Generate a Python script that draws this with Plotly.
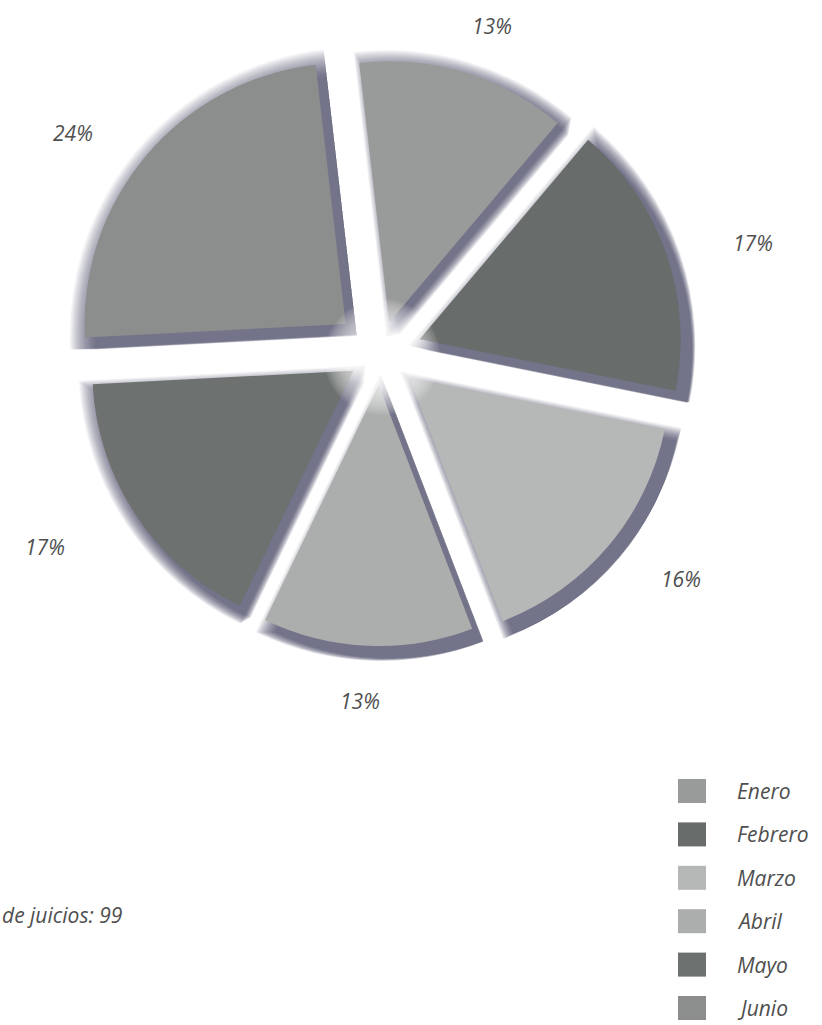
import math
import plotly.graph_objects as go

# Share of cases per month (percent)
months = ["Enero", "Febrero", "Marzo", "Abril", "Mayo", "Junio"]
shares = [13, 17, 16, 13, 17, 24]
slice_colors = ["#999b9a", "#686c6a", "#b6b8b8", "#abaead", "#6d716f", "#8b8e8d"]
footnote = "de juicios: 99"

W, H = 822, 1025
CX, CY = 380, 353          # pie centre in px
R = 261                    # slice radius in px
ROT = -6.6                 # start angle, degrees clockwise from 12 o'clock
explode_px = [32, 42, 38, 32, 32, 45]   # how far each slice is pulled out


def pie_layer(colors, cx, cy, r, shrink=0.0, **kw):
    """One pie copy with slice radius r (px) and explode distances in px."""
    pulls = [max(p - shrink, 0) / r for p in explode_px]
    half = r * (1 + max(pulls))
    return go.Pie(
        labels=months, values=shares, sort=False, direction="clockwise",
        rotation=ROT, pull=pulls, textinfo="none", showlegend=False,
        marker=dict(colors=colors, line=dict(width=0)),
        domain=dict(x=[(cx - half) / W, (cx + half) / W],
                    y=[1 - (cy + half) / H, 1 - (cy - half) / H]),
        **kw,
    )


fig = go.Figure()

# soft drop shadow: many faint copies spread evenly in offset and size,
# so the darkness fades out smoothly away from each slice
n = 36
for i in range(n):
    t = i / (n - 1)
    fig.add_trace(pie_layer(
        ["rgba(72,72,82,0.03)"] * len(shares),
        CX + 1 + 10 * t, CY + 2 + 10 * t, R + 26 * (1 - t),
        shrink=13 * (1 - t), hoverinfo="skip"))

fig.add_trace(pie_layer(slice_colors, CX, CY, R))

# white glow where the slice tips meet
for rad in range(58, 2, -2):
    fig.add_shape(type="circle", xref="paper", yref="paper",
                  x0=(CX + 2 - rad) / W, x1=(CX + 2 + rad) / W,
                  y0=1 - (CY + 4 + rad) / H, y1=1 - (CY + 4 - rad) / H,
                  fillcolor="rgba(255,255,255,0.08)", line=dict(width=0),
                  layer="above")

font_txt = dict(family="Open Sans", size=21, color="#4f4f4f", style="italic")

# percentage labels placed around the pie at each slice's mid-angle
total = sum(shares)
acc = 0
LA, LB = 398, 345
for m, v in zip(months, shares):
    mid = ROT + 360 * (acc + v / 2) / total
    acc += v
    th = math.radians(mid)
    x = 377 + LA * math.sin(th)
    y = 356 - LB * math.cos(th)
    fig.add_annotation(x=x / W, y=1 - y / H, xref="paper", yref="paper",
                       text=f"{round(100 * v / total)}%", showarrow=False,
                       font=font_txt, xanchor="center", yanchor="middle")

# legend key, drawn at the lower right
for i, (m, c) in enumerate(zip(months, slice_colors)):
    yc = 791 + i * 43.4
    fig.add_shape(type="rect", xref="paper", yref="paper",
                  x0=678 / W, x1=706 / W,
                  y0=1 - (yc + 12) / H, y1=1 - (yc - 12) / H,
                  fillcolor=c, line=dict(width=0))
    fig.add_annotation(x=735 / W, y=1 - yc / H, xref="paper", yref="paper",
                       text=m, showarrow=False, font=font_txt,
                       xanchor="left", yanchor="middle")

fig.add_annotation(x=0, y=1 - 915 / H, xref="paper", yref="paper",
                   text=footnote, showarrow=False, font=font_txt,
                   xanchor="left", yanchor="middle")

fig.update_layout(width=W, height=H, margin=dict(l=0, r=0, t=0, b=0),
                  paper_bgcolor="white", plot_bgcolor="white")

fig.write_html("out.html")
